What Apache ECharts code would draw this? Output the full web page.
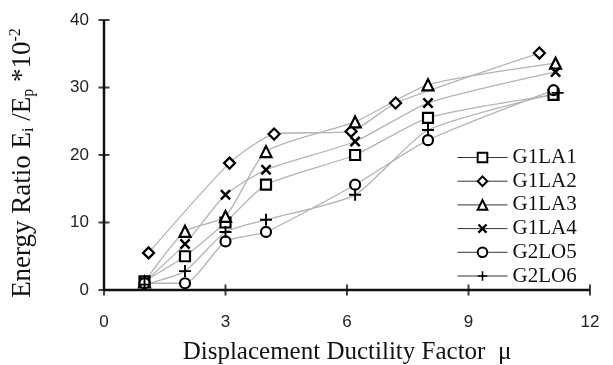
<!DOCTYPE html>
<html>
<head>
<meta charset="utf-8">
<script src="https://cdn.jsdelivr.net/npm/echarts@6/dist/echarts.min.js"></script>
<style>html,body{margin:0;padding:0;background:#fff;}#c{width:613px;height:365px;}</style>
</head>
<body>
<div id="c"></div>
<script>
// ---- data ----
const seriesNames = ['G1LA1', 'G1LA2', 'G1LA3', 'G1LA4', 'G2LO5', 'G2LO6'];
const muG1LA1 = [1.0, 2.0, 3.0, 4.0, 6.2, 8.0, 11.1];
const eG1LA1  = [1.3, 5.0, 10.0, 15.6, 20.0, 25.5, 28.9];
const muG1LA2 = [1.1, 3.1, 4.2, 6.1, 7.2, 10.75];
const eG1LA2  = [5.5, 18.8, 23.1, 23.5, 27.7, 35.1];
const muG1LA3 = [1.0, 2.0, 3.0, 4.0, 6.2, 8.0, 11.15];
const eG1LA3  = [1.2, 8.7, 10.9, 20.5, 24.9, 30.4, 33.6];
const muG1LA4 = [1.0, 2.0, 3.0, 4.0, 6.2, 8.0, 11.15];
const eG1LA4  = [1.2, 6.8, 14.1, 17.8, 22.0, 27.7, 32.3];
const muG2LO5 = [1.0, 2.0, 3.0, 4.0, 6.2, 8.0, 11.1];
const eG2LO5  = [1.0, 1.0, 7.2, 8.6, 15.6, 22.2, 29.6];
const muG2LO6 = [1.0, 2.0, 3.0, 4.0, 6.2, 8.0, 11.2];
const eG2LO6  = [0.8, 2.8, 8.6, 10.4, 14.1, 23.7, 29.2];
const xTicks = [0, 3, 6, 9, 12];
const yTicks = [0, 10, 20, 30, 40];

const allMu = [muG1LA1, muG1LA2, muG1LA3, muG1LA4, muG2LO5, muG2LO6];
const allE  = [eG1LA1, eG1LA2, eG1LA3, eG1LA4, eG2LO5, eG2LO6];

const SERIF = 'Liberation Serif, serif';
const SANS = 'Liberation Sans, sans-serif';

const crossPath = 'path://M0,1.6 L1.6,0 L5,3.4 L8.4,0 L10,1.6 L6.6,5 L10,8.4 L8.4,10 L5,6.6 L1.6,10 L0,8.4 L3.4,5 Z';
const plusPath = 'path://M4.2,0 H5.8 V4.2 H10 V5.8 H5.8 V10 H4.2 V5.8 H0 V4.2 H4.2 Z';

const hollow = () => ({color: '#fff', borderColor: '#000', borderWidth: 2.2});
const solid = () => ({color: '#000', borderWidth: 0});
const symbolDefs = [
  {symbol: 'rect', size: 10, style: hollow()},
  {symbol: 'diamond', size: 11, style: hollow()},
  {symbol: 'triangle', size: 11, style: hollow()},
  {symbol: crossPath, size: 11, style: solid()},
  {symbol: 'circle', size: 10, style: hollow()},
  {symbol: plusPath, size: 12, style: solid()}
];

const dataSeries = seriesNames.map((n, i) => ({
  name: n,
  type: 'line',
  smooth: 0.2,
  data: allMu[i].map((m, k) => [m, allE[i][k]]),
  symbol: symbolDefs[i].symbol,
  symbolSize: symbolDefs[i].size,
  itemStyle: symbolDefs[i].style,
  lineStyle: {color: '#b4b4b4', width: 1.3},
  emphasis: {disabled: true},
  animation: false,
  z: 3
}));

const X0 = xTicks[0], X1 = xTicks[xTicks.length - 1];
const Y0 = yTicks[0], Y1 = yTicks[yTicks.length - 1];

// axis frame drawn as ordinary series through the axes' scale
const frameSeries = [
  {
    name: 'xAxisLine', type: 'line', clip: false, silent: true, symbol: 'none',
    data: [[X0, Y0], [X1, Y0]],
    lineStyle: {color: '#111', width: 2.5}, emphasis: {disabled: true}, z: 5
  },
  {
    name: 'yAxisLine', type: 'line', clip: false, silent: true, symbol: 'none',
    data: [[X0, Y0], [X0, Y1]],
    lineStyle: {color: '#111', width: 2.5}, emphasis: {disabled: true}, z: 5
  },
  {
    name: 'xTickMarks', type: 'scatter', clip: false, silent: true,
    data: xTicks.map(v => [v, Y0]),
    symbol: 'rect', symbolSize: [2, 11],
    itemStyle: {color: '#111', borderWidth: 0}, emphasis: {disabled: true}, z: 5
  },
  {
    name: 'yTickMarks', type: 'scatter', clip: false, silent: true,
    data: yTicks.map(v => [X0, v]),
    symbol: 'rect', symbolSize: [11, 2],
    itemStyle: {color: '#111', borderWidth: 0}, emphasis: {disabled: true}, z: 5
  }
];

const chart = echarts.init(document.getElementById('c'));
chart.setOption({
  backgroundColor: '#fff',
  animation: false,
  grid: {left: 104, right: 23, top: 20, bottom: 75, containLabel: false, outerBoundsMode: 'none'},
  legend: {
    orient: 'vertical',
    left: 452,
    top: 142,
    itemWidth: 50,
    itemHeight: 12,
    itemGap: 2.7,
    data: seriesNames,
    lineStyle: {color: '#333', width: 1, inactiveColor: '#333'},
    textStyle: {fontFamily: SERIF, fontSize: 21, color: '#111', lineHeight: 20}
  },
  xAxis: {
    type: 'value', min: X0, max: X1, interval: 3,
    name: 'Displacement Ductility Factor  μ',
    nameLocation: 'middle', nameGap: 50,
    nameTextStyle: {fontFamily: SERIF, fontSize: 25, color: '#111'},
    axisLine: {show: false, onZero: false},
    axisTick: {show: false},
    axisLabel: {margin: 24, fontFamily: SANS, fontSize: 17, color: '#222',
      formatter: v => xTicks.includes(v) ? String(v) : ''},
    splitLine: {show: false}
  },
  yAxis: {
    type: 'value', min: Y0, max: Y1, interval: 10,
    name: '{a|Energy Ratio E}{b|i}{a| /E}{b|p}{a| *10}{c|-2}',
    nameLocation: 'middle', nameGap: 66,
    nameTextStyle: {fontFamily: SERIF, fontSize: 27, color: '#111', padding: [0, 16, 0, 0],
      rich: {
        a: {fontFamily: SERIF, fontSize: 27, color: '#111'},
        b: {fontFamily: SERIF, fontSize: 16, color: '#111', padding: [12, 0, 0, 0]},
        c: {fontFamily: SERIF, fontSize: 16, color: '#111', padding: [0, 0, 14, 0]}
      }},
    axisLine: {show: false, onZero: false},
    axisTick: {show: false},
    axisLabel: {margin: 15, fontFamily: SANS, fontSize: 17, color: '#222',
      formatter: v => yTicks.includes(v) ? String(v) : ''},
    splitLine: {show: false}
  },
  series: dataSeries.concat(frameSeries)
});
</script>
</body>
</html>
